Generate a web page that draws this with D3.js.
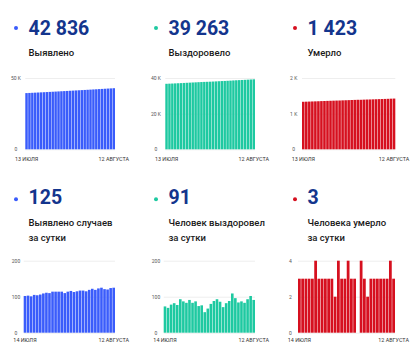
<!DOCTYPE html>
<html><head><meta charset="utf-8">
<script src="https://cdn.jsdelivr.net/npm/d3@7"></script>
<style>
html,body{margin:0;padding:0;background:#fff;}
svg{display:block;font-family:Roboto,"Noto Sans",sans-serif;}
</style></head>
<body><svg id="c" width="418" height="352"></svg>
<script>
// ---- data ----
const datesCum = ["13.07","14.07","15.07","16.07","17.07","18.07","19.07","20.07","21.07","22.07","23.07","24.07","25.07","26.07","27.07","28.07","29.07","30.07","31.07","01.08","02.08","03.08","04.08","05.08","06.08","07.08","08.08","09.08","10.08","11.08","12.08"];
const datesDaily = datesCum.slice(1);
const casesTotal = [39414,39516,39619,39720,39825,39929,40035,40144,40255,40365,40479,40593,40707,40821,40931,41045,41161,41274,41389,41506,41623,41738,41857,41979,42098,42221,42346,42467,42587,42711,42836];
const recoveredTotal = [36753,36826,36895,36973,37055,37132,37225,37312,37395,37486,37569,37656,37730,37806,37863,37930,38010,38098,38191,38277,38348,38430,38518,38627,38723,38807,38894,38977,39070,39172,39263];
const deathsTotal = [1333,1336,1339,1342,1345,1348,1352,1355,1358,1361,1364,1367,1369,1373,1376,1379,1383,1386,1389,1389,1393,1396,1398,1401,1404,1407,1410,1413,1416,1420,1423];
const casesDaily = [102,103,101,105,104,106,109,111,110,114,114,114,114,110,114,116,113,115,117,117,115,119,122,119,123,125,121,120,124,125];
const recoveredDaily = [73,69,78,82,77,93,87,83,91,83,87,74,76,57,67,80,88,93,86,71,82,88,109,96,84,87,83,93,102,91];
const deathsDaily = [3,3,3,3,3,4,3,3,3,3,3,2,4,3,3,4,3,3,0,4,3,2,3,3,3,3,3,3,4,3];
const headlines = ["42 836","39 263","1 423","125","91","3"];
const titles = [["Выявлено"],["Выздоровело"],["Умерло"],["Выявлено случаев","за сутки"],["Человек выздоровел","за сутки"],["Человека умерло","за сутки"]];
const yTicks = [[0,50000],[0,20000,40000],[0,1000,2000],[0,100,200],[0,100,200],[0,2,4]];
const yTickLabels = [["0","50 K"],["0","20 K","40 K"],["0","1 K","2 K"],["0","100","200"],["0","100","200"],["0","2","4"]];
const yMax = [50000,40000,2000,200,200,4];
const xTickLabelsCum = ["13 ИЮЛЯ","12 АВГУСТА"];
const xTickLabelsDaily = ["14 ИЮЛЯ","12 АВГУСТА"];
const colors = ["#3a5cfb","#1ec9a1","#d6101f"];

// ---- layout ----
const colX = [0,140,279];
const rows = [
  {dotY:28, numY:35, titleY:56, top:78, bottom:149.3, dateY:161.5},
  {dotY:199.3, numY:204.3, titleY:226, top:260.7, bottom:332.7, dateY:342.5}
];
const plotLR = [[25.3,115],[25.3,115],[23,116.3],[23.7,115],[23.7,115],[19,116]];
const tickLabelX = [16,16,14.7,16,16,11.5];
const series = [casesTotal,recoveredTotal,deathsTotal,casesDaily,recoveredDaily,deathsDaily];

const svg = d3.select("#c");

series.forEach((vals,i)=>{
  const r = rows[Math.floor(i/3)], c = i%3, ox = colX[c];
  const dates = i<3 ? datesCum : datesDaily;
  const xl = i<3 ? xTickLabelsCum : xTickLabelsDaily;
  const g = svg.append("g").attr("transform",`translate(${ox},0)`);
  g.append("circle").attr("cx",16).attr("cy",r.dotY).attr("r",2).attr("fill",colors[c]);
  g.append("text").attr("x",28.5).attr("y",r.numY).attr("font-size",19.5).attr("font-weight",700)
    .attr("fill","#13358d").text(headlines[i]);
  titles[i].forEach((t,k)=>{
    g.append("text").attr("x",28.5).attr("y",r.titleY+k*15).attr("font-size",9.5).attr("font-weight",500)
      .attr("fill","#1a1a1a").text(t);
  });
  const [pl,pr] = plotLR[i];
  const x = d3.scaleBand().domain(dates).range([pl,pr]).paddingInner(0.15).paddingOuter(0);
  const y = d3.scaleLinear().domain([0,yMax[i]]).range([r.bottom,r.top]);
  // y axis with gridlines
  const ya = g.append("g").attr("transform",`translate(${pl},0)`)
    .call(d3.axisLeft(y).tickValues(yTicks[i]).tickSize(-(pr-pl)).tickPadding(0)
      .tickFormat((d,k)=>yTickLabels[i][k]));
  ya.select(".domain").remove();
  ya.selectAll(".tick line").attr("stroke","#eeeeee").attr("stroke-width",1);
  ya.selectAll(".tick text").attr("x",tickLabelX[i]-pl).attr("text-anchor","middle")
    .attr("font-size",5).attr("fill","#555").attr("font-family","Roboto,sans-serif");
  // bars
  g.append("g").selectAll("rect").data(vals).join("rect")
    .attr("x",(d,k)=>x(dates[k])).attr("width",x.bandwidth())
    .attr("y",d=>y(d)).attr("height",d=>y(0)-y(d)).attr("fill",colors[c]);
  // x axis
  const xa = g.append("g").attr("transform",`translate(0,${r.bottom})`)
    .call(d3.axisBottom(x).tickValues([dates[0],dates[dates.length-1]]).tickSize(0).tickPadding(0)
      .tickFormat((d,k)=>xl[k]));
  xa.select(".domain").remove();
  xa.selectAll(".tick text").attr("y",r.dateY-r.bottom).attr("dy",0)
    .attr("font-size",5.4).attr("fill","#333").attr("font-family","Roboto,sans-serif");
});
</script>
</body></html>
